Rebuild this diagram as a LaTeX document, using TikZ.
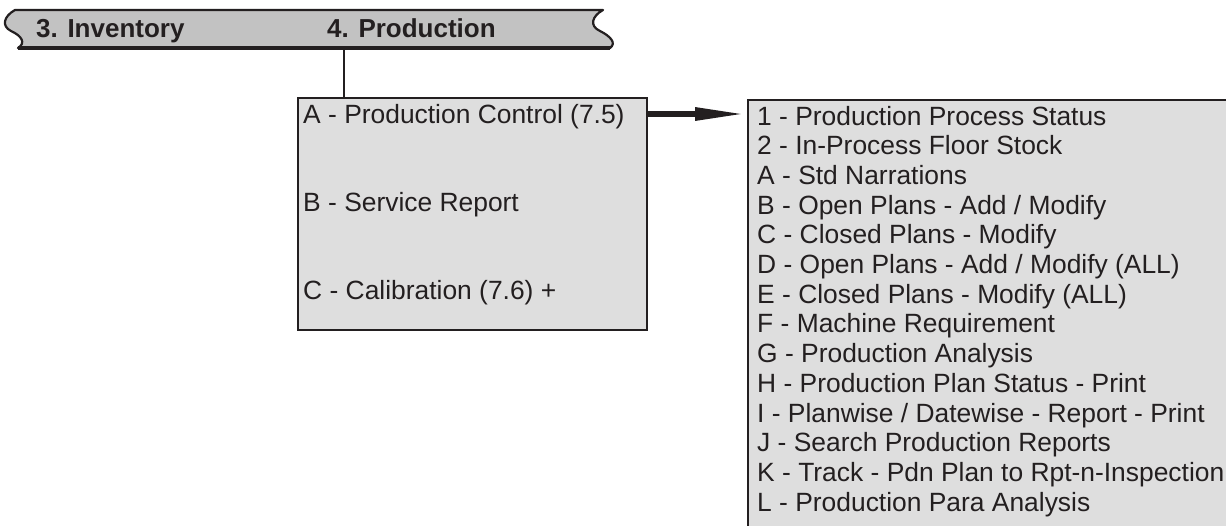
\documentclass[tikz,border=0pt]{standalone}
\usepackage{fontspec}
\setmainfont{Liberation Sans}
\usetikzlibrary{arrows.meta}
\definecolor{ink}{HTML}{231F20}
\definecolor{bannergray}{HTML}{C2C2C2}
\definecolor{boxgray}{HTML}{DEDEDE}
\begin{document}
\begin{tikzpicture}[x=1pt,y=-1pt,
  txt/.style={text=ink, inner sep=0pt, anchor=base west,
              font=\fontsize{26.4}{29.7}\selectfont},
  head/.style={txt, font=\fontsize{26}{30}\selectfont\bfseries},
  box/.style={draw=ink, line width=2.2pt, fill=boxgray, inner sep=0pt,
              anchor=north west},
  link/.style={draw=ink, line width=1.6pt},
  bigarrow/.style={draw=ink, line width=6pt,
                   -{Triangle[length=52pt,width=12pt]}}]
\useasboundingbox (0,0) rectangle (1226,525);

% ribbon header with wavy cut ends
\path[fill=bannergray, draw=ink, line width=2.2pt, line join=round]
  (15,10) -- (603,10)
  .. controls (592,16) and (589,26) .. (600,31)
  .. controls (610,36) and (617,43) .. (610,48)
  -- (18,48)
  .. controls (26,43) and (22,36) .. (11,31)
  .. controls (1,26) and (4,16) .. (15,10) -- cycle;
\draw[ink, line width=3.2pt] (18,48) -- (610,48);
\node[head] (inv) at (36,37) {3. Inventory};
\node[head] (prod) at (327,37) {4. Production};
\coordinate (tab) at (344,48);

% production menu
\node[box, minimum width=349pt, minimum height=232pt] (lbox) at (297,97) {};
\node[txt] (pa) at (303,123) {A - Production Control (7.5)};
\node[txt] (pb) at (303,211) {B - Service Report};
\node[txt] (pc) at (303,299) {C - Calibration (7.6) +};

% production control sub-menu (runs past the page edges)
\begin{scope}
\clip (0,0) rectangle (1226,525);
\node[box, minimum width=520pt, minimum height=460pt] (rbox) at (747,99) {};
\end{scope}
\foreach \t [count=\i from 0] in {
  1 - Production Process Status,
  2 - In-Process Floor Stock,
  A - Std Narrations,
  B - Open Plans - Add / Modify,
  C - Closed Plans - Modify,
  D - Open Plans - Add / Modify (ALL),
  E - Closed Plans - Modify (ALL),
  F - Machine Requirement,
  G - Production Analysis,
  H - Production Plan Status - Print,
  I - Planwise / Datewise - Report - Print,
  J - Search Production Reports,
  K - Track - Pdn Plan to Rpt-n-Inspection,
  L - Production Para Analysis}
  \node[txt] (item\i) at (757,125+29.7*\i) {\t};

% connectors
\draw[link] (tab) -- (tab |- lbox.north);
\coordinate (arm) at (646,114);
\draw[bigarrow] (arm) -- (arm -| rbox.west);
\end{tikzpicture}
\end{document}
